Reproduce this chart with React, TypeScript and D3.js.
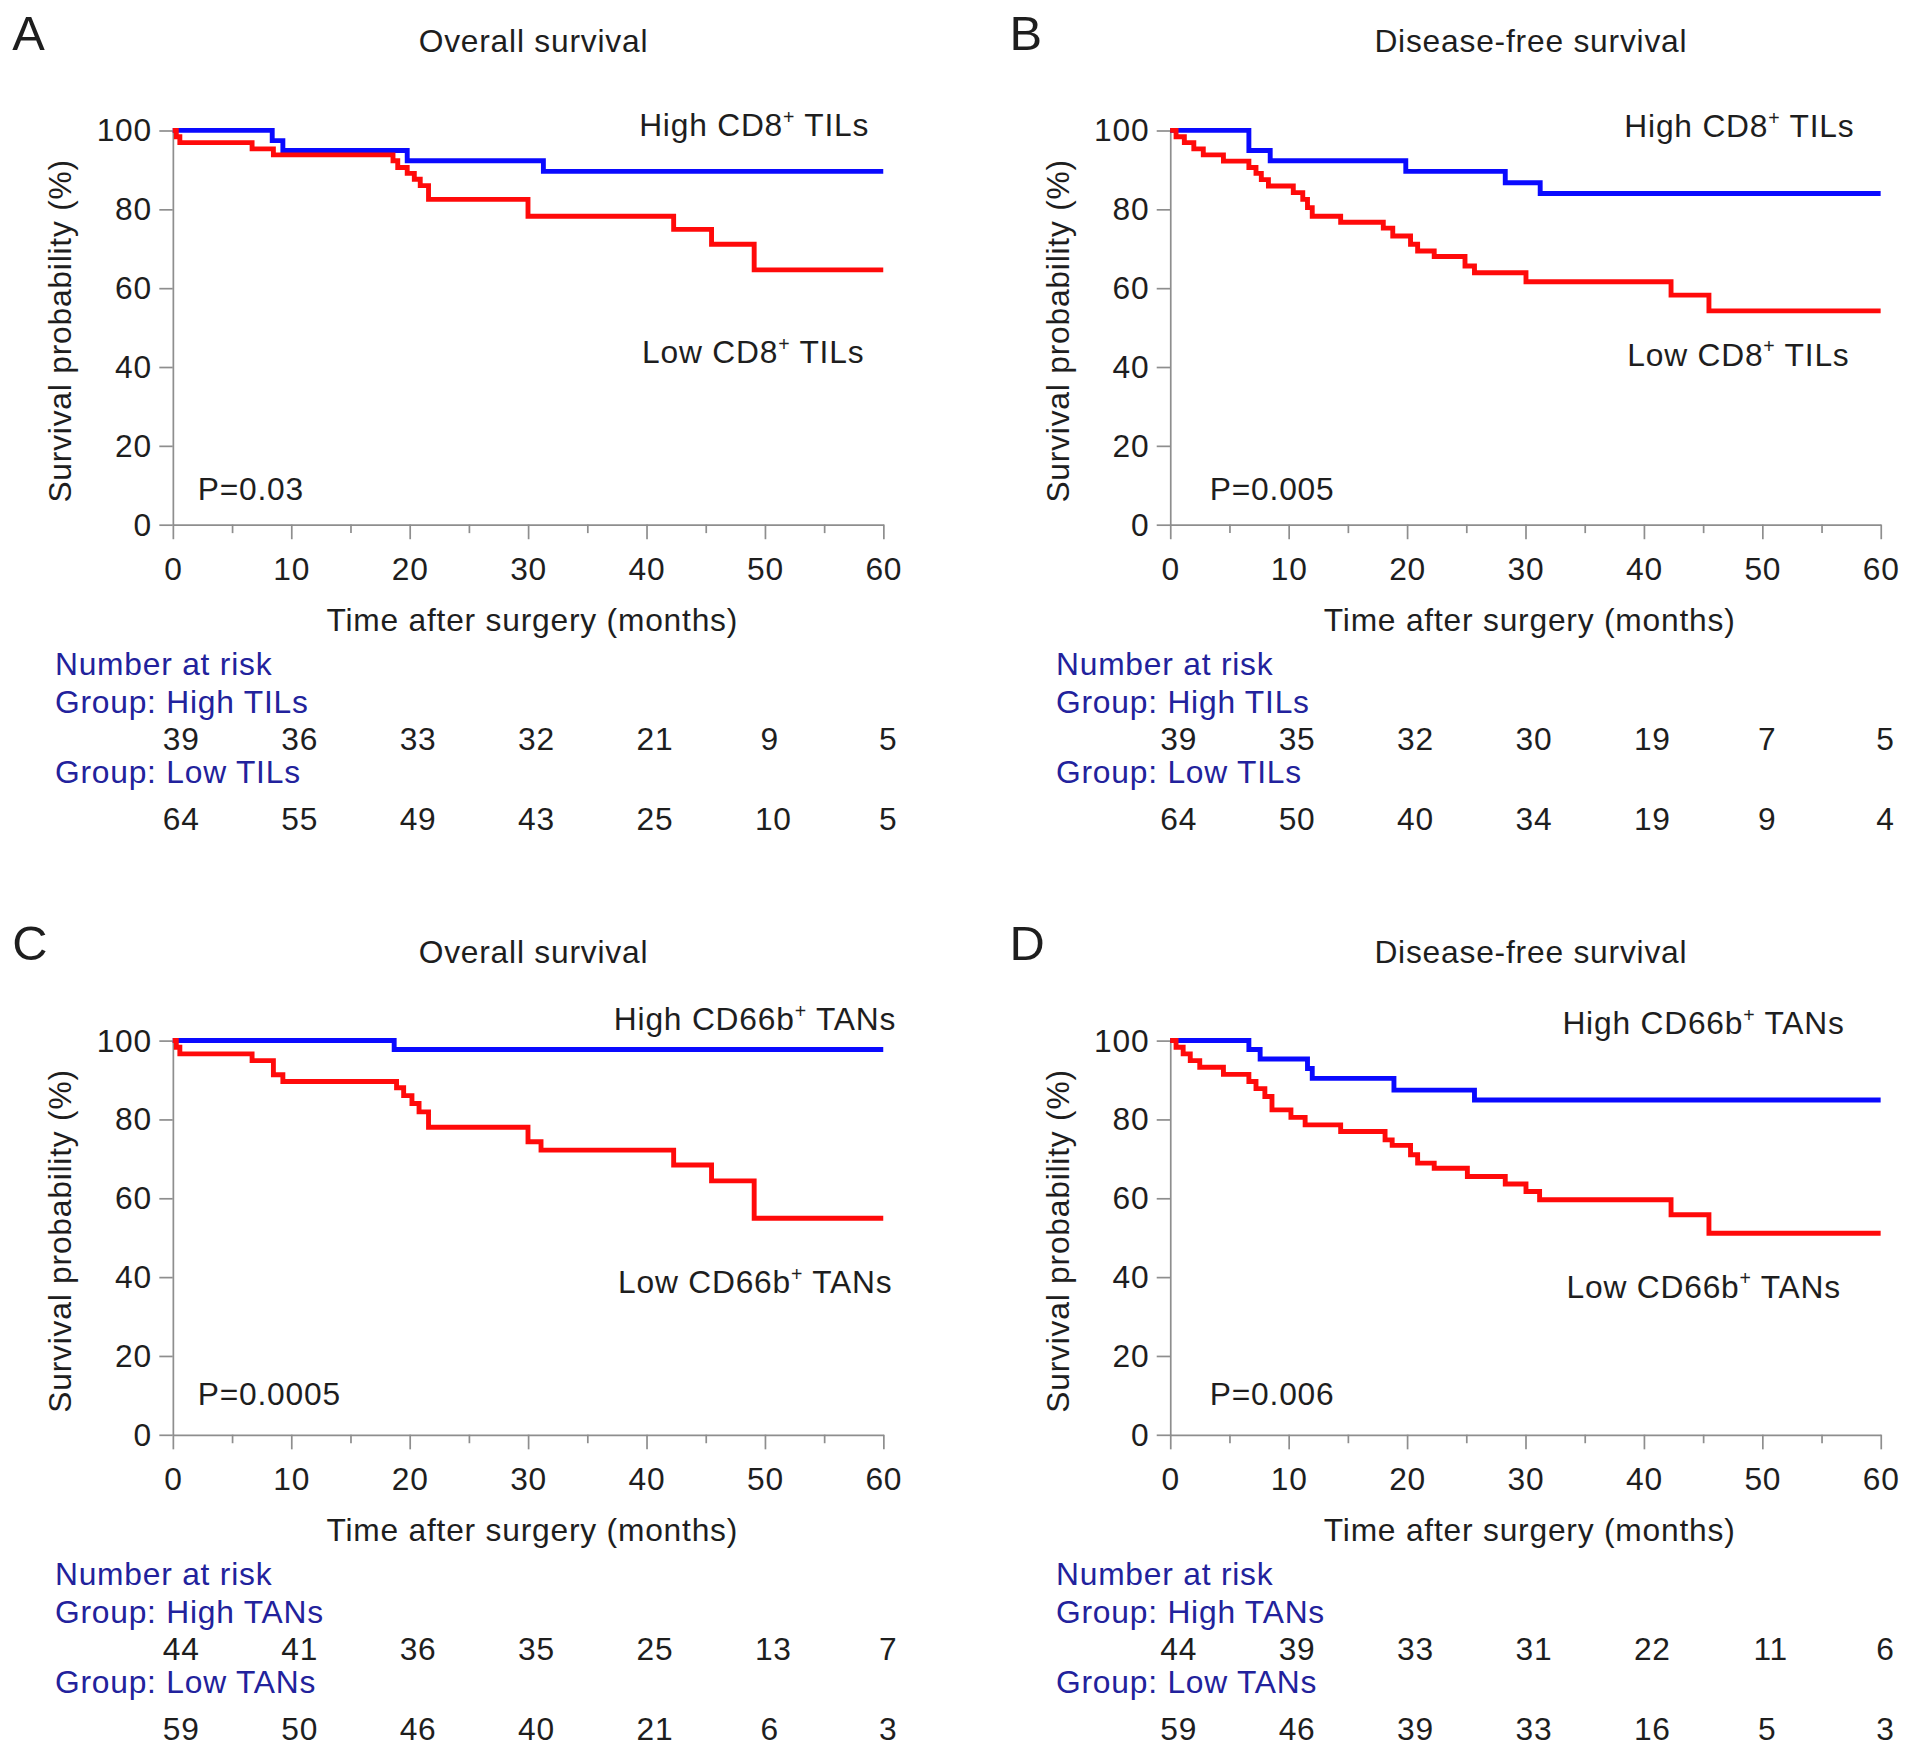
import React, { useEffect, useRef } from 'react';
import * as d3 from 'd3';

type Pt = [number, number];

// ---- data (months, survival %) ----
const timeTicks = [0, 10, 20, 30, 40, 50, 60];
const minorTicks = [5, 15, 25, 35, 45, 55];
const survTicks = [0, 20, 40, 60, 80, 100];

const panelLetters = ['A', 'B', 'C', 'D'];
const panelTitles = ['Overall survival', 'Disease-free survival', 'Overall survival', 'Disease-free survival'];
const pValues = ['P=0.03', 'P=0.005', 'P=0.0005', 'P=0.006'];
const markers = ['CD8', 'CD8', 'CD66b', 'CD66b'];
const cellTypes = ['TILs', 'TILs', 'TANs', 'TANs'];

const osTilsHigh: Pt[] = [[0, 100], [8.4, 97.4], [9.3, 94.9], [19.8, 92.3], [31.3, 89.6], [60, 89.6]];
const osTilsLow: Pt[] = [
  [0, 100], [0.3, 98.4], [0.6, 96.9], [6.7, 95.3], [8.5, 93.8], [18.6, 92.3], [19.0, 90.6],
  [19.8, 89.1], [20.4, 87.6], [20.9, 86.0], [21.6, 82.5], [30.0, 78.2], [42.3, 74.9],
  [45.5, 71.1], [49.1, 64.6], [60, 64.6]
];

const dfsTilsHigh: Pt[] = [[0, 100], [6.65, 94.9], [8.45, 92.3], [19.9, 89.6], [28.3, 86.7], [31.25, 84.0], [60, 84.0]];
const dfsTilsLow: Pt[] = [
  [0, 100], [0.5, 98.4], [1.2, 96.9], [2.0, 95.3], [2.8, 93.8], [4.5, 92.2], [6.65, 90.6],
  [7.25, 89.1], [7.7, 87.5], [8.3, 85.9], [10.4, 84.2], [11.2, 82.5], [11.6, 80.4], [12.0, 78.2],
  [14.4, 76.7], [18.0, 75.2], [18.8, 73.2], [20.3, 71.1], [20.9, 69.4], [22.3, 68.0], [24.9, 65.6],
  [25.7, 63.9], [30.05, 61.6], [42.3, 58.2], [45.5, 54.2], [60, 54.2]
];

const osTansHigh: Pt[] = [[0, 100], [18.7, 97.7], [60, 97.7]];
const osTansLow: Pt[] = [
  [0, 100], [0.3, 98.3], [0.6, 96.6], [6.7, 94.9], [8.5, 91.3], [9.3, 89.6], [18.9, 88.0],
  [19.5, 86.0], [20.2, 84.0], [20.8, 81.9], [21.6, 78.0], [30.0, 74.3], [31.1, 72.2],
  [42.3, 68.4], [45.5, 64.4], [49.1, 54.9], [60, 54.9]
];

const dfsTansHigh: Pt[] = [[0, 100], [6.65, 97.7], [7.6, 95.3], [11.6, 92.9], [12.0, 90.4], [18.9, 87.4], [25.7, 84.9], [60, 84.9]];
const dfsTansLow: Pt[] = [
  [0, 100], [0.5, 98.3], [1.1, 96.6], [1.7, 94.9], [2.5, 93.2], [4.5, 91.4], [6.65, 89.6],
  [7.25, 87.8], [8.0, 85.8], [8.6, 82.4], [10.2, 80.5], [11.4, 78.6], [14.4, 76.9], [18.15, 74.8],
  [18.75, 73.4], [20.3, 71.0], [20.9, 68.9], [22.3, 67.6], [25.1, 65.5], [28.3, 63.6], [30.05, 61.7],
  [31.2, 59.6], [42.3, 55.8], [45.5, 51.1], [60, 51.1]
];

const riskOsTilsHigh = [39, 36, 33, 32, 21, 9, 5];
const riskOsTilsLow = [64, 55, 49, 43, 25, 10, 5];
const riskDfsTilsHigh = [39, 35, 32, 30, 19, 7, 5];
const riskDfsTilsLow = [64, 50, 40, 34, 19, 9, 4];
const riskOsTansHigh = [44, 41, 36, 35, 25, 13, 7];
const riskOsTansLow = [59, 50, 46, 40, 21, 6, 3];
const riskDfsTansHigh = [44, 39, 33, 31, 22, 11, 6];
const riskDfsTansLow = [59, 46, 39, 33, 16, 5, 3];

const highCurves = [osTilsHigh, dfsTilsHigh, osTansHigh, dfsTansHigh];
const lowCurves = [osTilsLow, dfsTilsLow, osTansLow, dfsTansLow];
const highRisk = [riskOsTilsHigh, riskDfsTilsHigh, riskOsTansHigh, riskDfsTansHigh];
const lowRisk = [riskOsTilsLow, riskDfsTilsLow, riskOsTansLow, riskDfsTansLow];

// ---- layout (viewBox units) ----
const VB_W = 1567;
const VB_H = 1438.4;
const ORIGINS: Pt[] = [[0, 0], [817, 0], [0, 745.5], [817, 745.5]];
const LABELS = [
  { hx: 712, hy: 111.5, lx: 708, ly: 297.6, px: 162, py: 409.6 },
  { hx: 702, hy: 112.6, lx: 698, ly: 299.5, px: 174, py: 409.6 },
  { hx: 734, hy: 98.5, lx: 731, ly: 313.5, px: 162, py: 405.5 },
  { hx: 694, hy: 101.5, lx: 691, ly: 317.5, px: 174, py: 405.5 }
];

const FONT = '"Liberation Sans", Arial, Helvetica, sans-serif';
const FS = 26;
const LS = 0.65;
const AXIS_GREY = '#8e8e8e';
const TEXT = '#1e1e1e';
const RISK_BLUE = '#22229c';

export default function App() {
  const svgRef = useRef<SVGSVGElement>(null);

  useEffect(() => {
    if (!svgRef.current) return;
    const svg = d3.select(svgRef.current);
    svg.selectAll('*').remove();

    svg.append('rect').attr('width', VB_W).attr('height', VB_H).attr('fill', '#fff');

    const x = d3.scaleLinear().domain([0, 60]).range([141.5, 723.5]);
    const y = d3.scaleLinear().domain([0, 100]).range([429.7, 106.8]);
    const line = d3.line<Pt>()
      .x(d => x(d[0]))
      .y(d => y(d[1]))
      .curve(d3.curveStepAfter);

    panelLetters.forEach((letter, i) => {
      const [ox, oy] = ORIGINS[i];
      const lab = LABELS[i];
      const g = svg.append('g')
        .attr('transform', `translate(${ox},${oy})`)
        .attr('font-family', FONT)
        .attr('fill', TEXT)
        .attr('letter-spacing', LS);

      g.append('text').attr('x', 10).attr('y', 41).attr('font-size', 40)
        .attr('letter-spacing', 0).text(letter);
      g.append('text').attr('x', 437).attr('y', 43).attr('font-size', FS)
        .attr('text-anchor', 'middle').text(panelTitles[i]);

      // y axis
      const yAxis = g.append('g')
        .attr('transform', `translate(${x(0)},0)`)
        .call(d3.axisLeft(y).tickValues(survTicks).tickSize(11).tickSizeOuter(0));
      yAxis.selectAll('text')
        .attr('x', -17).attr('dy', '0.33em')
        .attr('font-size', FS).attr('font-family', FONT).attr('fill', TEXT);

      // x axis, major + minor ticks
      const xAxis = g.append('g')
        .attr('transform', `translate(0,${y(0)})`)
        .call(d3.axisBottom(x).tickValues(timeTicks).tickSize(12).tickSizeOuter(0));
      xAxis.selectAll('text')
        .attr('y', 45.3).attr('dy', 0)
        .attr('font-size', FS).attr('font-family', FONT).attr('fill', TEXT);
      const xMinor = g.append('g')
        .attr('transform', `translate(0,${y(0)})`)
        .call(d3.axisBottom(x).tickValues(minorTicks).tickSize(7).tickFormat(() => ''));
      xMinor.select('.domain').remove();

      [yAxis, xAxis, xMinor].forEach(a => {
        a.selectAll('path, line').attr('stroke', AXIS_GREY).attr('stroke-width', 1.4);
      });

      g.append('text')
        .attr('transform', `translate(58.5,271) rotate(-90)`)
        .attr('text-anchor', 'middle').attr('font-size', FS)
        .text('Survival probability (%)');
      g.append('text').attr('x', 436).attr('y', 517).attr('text-anchor', 'middle')
        .attr('font-size', FS).text('Time after surgery (months)');

      // curves
      g.append('path').datum(highCurves[i]).attr('d', line)
        .attr('fill', 'none').attr('stroke', '#0a0aff').attr('stroke-width', 4);
      g.append('path').datum(lowCurves[i]).attr('d', line)
        .attr('fill', 'none').attr('stroke', '#ff0a0a').attr('stroke-width', 4);

      const curveLabel = (tx: number, ty: number, prefix: string) => {
        const t = g.append('text').attr('x', tx).attr('y', ty)
          .attr('text-anchor', 'end').attr('font-size', FS);
        t.append('tspan').text(`${prefix} ${markers[i]}`);
        t.append('tspan').attr('font-size', 16).attr('dy', -10).text('+');
        t.append('tspan').attr('dy', 10).text(` ${cellTypes[i]}`);
      };
      curveLabel(lab.hx, lab.hy, 'High');
      curveLabel(lab.lx, lab.ly, 'Low');

      g.append('text').attr('x', lab.px).attr('y', lab.py).attr('font-size', FS).text(pValues[i]);

      // number at risk table
      const lx = i % 2 === 0 ? 45 : 48;
      g.append('text').attr('x', lx).attr('y', 553).attr('font-size', FS)
        .attr('fill', RISK_BLUE).text('Number at risk');
      g.append('text').attr('x', lx).attr('y', 584).attr('font-size', FS)
        .attr('fill', RISK_BLUE).text(`Group: High ${cellTypes[i]}`);
      g.append('text').attr('x', lx).attr('y', 641).attr('font-size', FS)
        .attr('fill', RISK_BLUE).text(`Group: Low ${cellTypes[i]}`);

      const rowY = [614.5, 680];
      [highRisk[i], lowRisk[i]].forEach((row, r) => {
        g.selectAll(null)
          .data(row)
          .join('text')
          .attr('x', (d, k) => x(timeTicks[k]) + (d >= 10 ? 7 : 4))
          .attr('y', rowY[r])
          .attr('text-anchor', 'middle')
          .attr('font-size', FS)
          .text(d => String(d));
      });
    });
  }, []);

  return (
    <svg
      ref={svgRef}
      width={1913}
      height={1756}
      viewBox={`0 0 ${VB_W} ${VB_H}`}
      style={{ position: 'absolute', left: 0, top: 0, display: 'block' }}
    />
  );
}
